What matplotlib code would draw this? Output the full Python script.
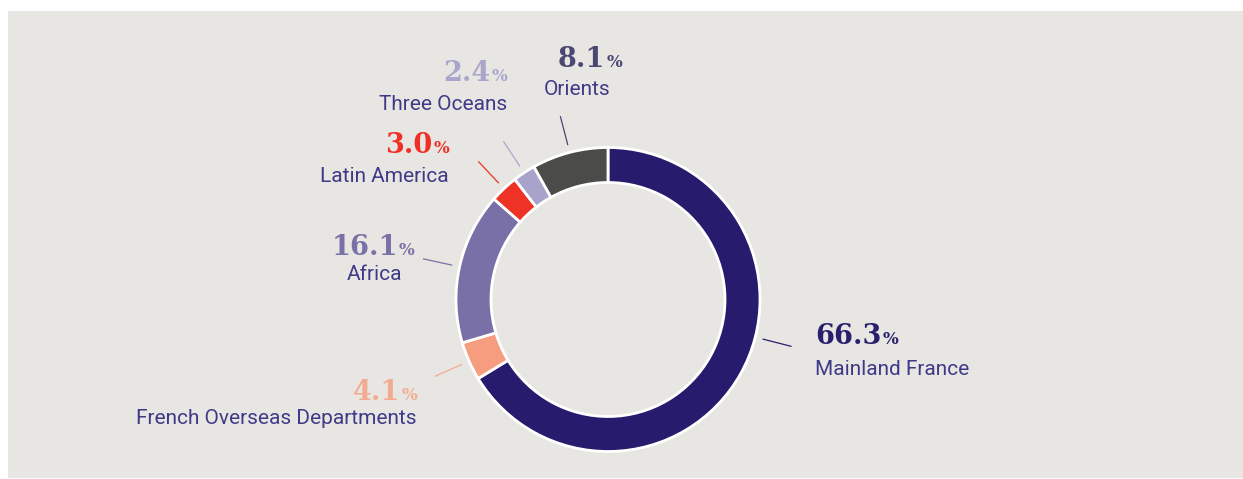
import matplotlib
matplotlib.use("Agg")
import matplotlib.pyplot as plt
from matplotlib.patches import Rectangle
import numpy as np

# ---- data ----
regions = ["Mainland France", "French Overseas Departments", "Africa",
           "Latin America", "Three Oceans", "Orients"]
shares = [66.3, 4.1, 16.1, 3.0, 2.4, 8.1]
slice_colors = ["#261b6d", "#f69d7f", "#7a70a8", "#ee3226", "#a7a3c9", "#4b4b4a"]
value_colors = ["#2a1f6e", "#f2ab90", "#7a70a8", "#ee3124", "#aaa6cb", "#4a4772"]
name_color = "#3f3a88"

# ---- layout (pixels) ----
W, H = 1243, 479
cx, cy_img, R, ring = 608, 299.5, 152, 35
# label layout: (value x, value baseline, value ha, name x, name baseline, name ha)
label_layout = [
    (815, 344, "left", 815, 375, "left"),
    (417, 400, "right", 417, 424, "right"),
    (373, 255, "center", 374, 280, "center"),
    (449, 153, "right", 449, 182, "right"),
    (507, 81, "right", 507, 110, "right"),
    (558, 67, "left", 544, 95, "left"),
]
leader_shift = [15.0, 0, 0, 0, 0, 0]  # degrees, clockwise offset from slice middle
r_in, r_out = 159.5, 189.5

def Y(y):
    return H - y

fig = plt.figure(figsize=(W / 100, H / 100), dpi=100, facecolor="white")
ax = fig.add_axes([0, 0, 1, 1])
ax.add_patch(Rectangle((8, Y(478)), W - 8, 467, facecolor="#e8e6e2",
                       edgecolor="none", zorder=0))

ax.pie(shares, colors=slice_colors, startangle=90, counterclock=False,
       radius=R, center=(cx, Y(cy_img)), frame=True,
       wedgeprops=dict(width=ring, edgecolor="white", linewidth=2.0))
ax.set_xlim(0, W)
ax.set_ylim(0, H)
ax.set_aspect("auto")
ax.axis("off")

# leader lines at slice mid-angles
cum = np.cumsum([0] + shares[:-1])
for i, s in enumerate(shares):
    mid_cw = (cum[i] + s / 2) / 100 * 360 - leader_shift[i]
    a = np.deg2rad(90 - mid_cw)
    xs = [cx + r_in * np.cos(a), cx + r_out * np.cos(a)]
    ys = [Y(cy_img) + r_in * np.sin(a), Y(cy_img) + r_out * np.sin(a)]
    ax.plot(xs, ys, color=value_colors[i],
            lw=0.9, solid_capstyle="butt", zorder=3)

fig.canvas.draw()
renderer = fig.canvas.get_renderer()

num_font = dict(family="DejaVu Serif", fontweight="bold", fontsize=19.5)
pct_font = dict(family="DejaVu Serif", fontweight="bold", fontsize=12)
name_font = dict(family="Roboto", fontweight="normal", fontsize=15)

def width_of(txt, font):
    t = ax.text(0, 0, txt, **font)
    w = t.get_window_extent(renderer).width
    t.remove()
    return w

gap = 1.0
for i, (name, s) in enumerate(zip(regions, shares)):
    vx, vy, vha, nx, ny, nha = label_layout[i]
    num = f"{s:.1f}"
    wn = width_of(num, num_font)
    wp = width_of("%", pct_font)
    total = wn + gap + wp
    if vha == "left":
        x0 = vx
    elif vha == "right":
        x0 = vx - total
    else:
        x0 = vx - total / 2
    ax.text(x0, Y(vy), num, ha="left", va="baseline", color=value_colors[i], **num_font)
    ax.text(x0 + wn + gap, Y(vy), "%", ha="left", va="baseline", color=value_colors[i], **pct_font)
    ax.text(nx, Y(ny), name, ha=nha, va="baseline", color=name_color, **name_font)

fig.savefig("out.png", dpi=100, facecolor="white")
